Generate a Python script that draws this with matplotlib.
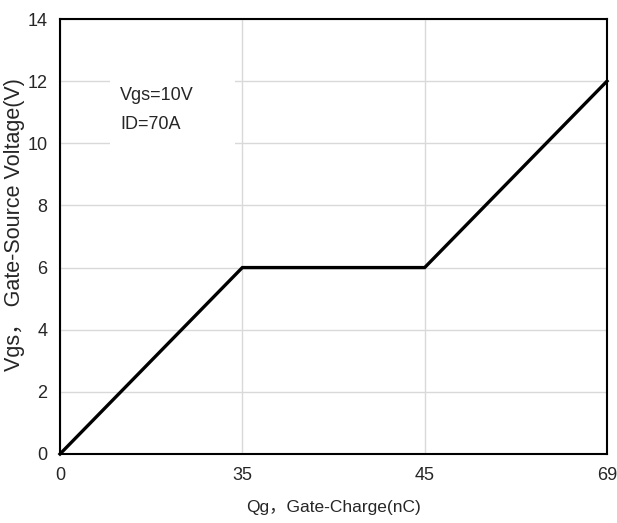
import matplotlib
matplotlib.use("Agg")
import matplotlib.pyplot as plt
from matplotlib.patches import Rectangle

charge_labels = ["0", "35", "45", "69"]
vgs = [0, 6, 6, 12]
y_ticks = [0, 2, 4, 6, 8, 10, 12, 14]

fam = ["Liberation Sans", "Noto Sans CJK SC", "DejaVu Sans"]
plt.rcParams["font.family"] = fam

fig = plt.figure(figsize=(6.17, 5.23), dpi=100)
ax = fig.add_axes([60/617, 1-454/523, (607-60)/617, (454-19)/523])

xpos = list(range(len(charge_labels)))
ax.plot(xpos, vgs, color="black", lw=2.4, solid_joinstyle="miter", zorder=3, clip_on=False)

ax.set_xlim(0, len(charge_labels)-1)
ax.set_ylim(0, 14)
ax.set_xticks(xpos)
ax.set_xticklabels(charge_labels)
ax.set_yticks(y_ticks)
ax.tick_params(axis="both", length=0, labelsize=13, colors="#262626")
ax.tick_params(axis="x", pad=9)
ax.tick_params(axis="y", pad=9)
ax.grid(True, color="#d9d9d9", lw=1.0, zorder=0)
ax.set_axisbelow(True)
for s in ax.spines.values():
    s.set_color("black")
    s.set_linewidth(1.5)

ax.set_xlabel("Qg，Gate-Charge(nC)", fontsize=12.5, color="#262626", labelpad=12)
ax.set_ylabel("Vgs， Gate-Source Voltage(V)", fontsize=15.5, color="#262626")
ax.yaxis.label.set_va("center")
ax.yaxis.set_label_coords(15/617, 1-225/523, transform=fig.transFigure)

ax.add_patch(Rectangle((0.0914, 0.694), 0.229, 0.189, transform=ax.transAxes,
                       facecolor="white", edgecolor="none", zorder=1))
ax.text(0.1097, 0.791, "Vgs=10V\nID=70A", transform=ax.transAxes, fontsize=13,
        color="#262626", va="center", ha="left", linespacing=1.95, zorder=2)

fig.savefig("out.png", dpi=100)
